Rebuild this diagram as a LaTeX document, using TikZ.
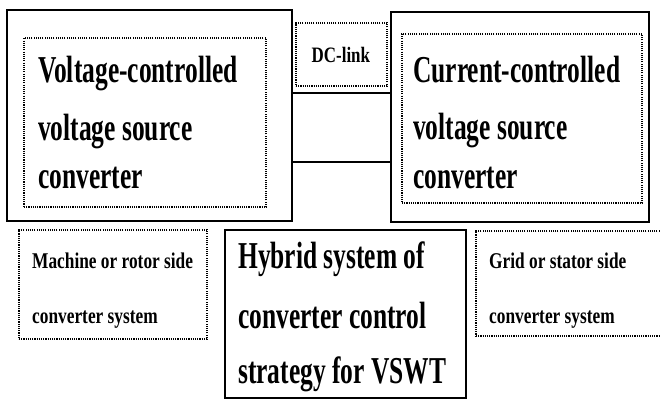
\documentclass[tikz,border=0pt]{standalone}
\usepackage{fontspec}
\setmainfont{Liberation Serif}[FakeStretch=0.73]
\newfontfamily\bigfont{Liberation Serif}[FakeStretch=0.67]
\newfontfamily\smallfont{Liberation Serif}[FakeStretch=0.77]
\begin{document}
\begin{tikzpicture}[x=1pt,y=-1pt,
  outerbox/.style={draw,line width=1.4pt,inner sep=0pt,outer sep=0pt},
  dotbox/.style={draw,line width=1.1pt,dash pattern=on 1.1pt off 1.1pt,inner sep=0pt,outer sep=0pt},
  bigtxt/.style={anchor=base west,inner sep=0pt,font=\bigfont\fontsize{38}{42}\selectfont\bfseries},
  midtxt/.style={anchor=base west,inner sep=0pt,font=\smallfont\fontsize{22.5}{26}\selectfont\bfseries},
  smalltxt/.style={anchor=base west,inner sep=0pt,font=\smallfont\fontsize{22}{25}\selectfont\bfseries},
  link/.style={line width=1.4pt}]
\useasboundingbox (0,0) rectangle (660,399);
% left converter
\node[outerbox,minimum width=285pt,minimum height=211pt] (lvo) at (149.5,115.5) {};
\node[dotbox,minimum width=242pt,minimum height=169pt] (lvi) at (145,122.5) {};
\node[bigtxt] (lt1) at (38,82) {Voltage-controlled};
\node[bigtxt] (lt2) at (38,140) {voltage source};
\node[bigtxt] (lt3) at (38,188) {converter};
% DC link
\node[dotbox,minimum width=91pt,minimum height=63pt] (dcl) at (341.5,54.5) {};
\node[smalltxt] (dct) at (311.5,62.5) {DC-link};
% right converter
\node[outerbox,minimum width=258pt,minimum height=210pt] (rco) at (520,117) {};
\node[dotbox,minimum width=240pt,minimum height=169pt] (rci) at (522,118.5) {};
\node[bigtxt] (rt1) at (413,82) {Current-controlled};
\node[bigtxt] (rt2) at (413,139) {voltage source};
\node[bigtxt] (rt3) at (413,188) {converter};
% connectors
\draw[link] ([yshift=22.5pt]lvo.east) -- ([yshift=22.5pt]lvo.east -| rco.west);
\draw[link] ([yshift=-46.5pt]lvo.east) -- ([yshift=-46.5pt]lvo.east -| rco.west);
% bottom row
\node[dotbox,minimum width=188pt,minimum height=109pt] (msb) at (113,284.5) {};
\node[midtxt] (mt1) at (32,268) {Machine or rotor side};
\node[midtxt] (mt2) at (32,323) {converter system};
\node[outerbox,minimum width=241pt,minimum height=168pt] (hyb) at (345.5,314) {};
\node[bigtxt] (ht1) at (238,268) {Hybrid system of};
\node[bigtxt] (ht2) at (238,328) {converter control};
\node[bigtxt] (ht3) at (238,383) {strategy for VSWT};
\node[dotbox,minimum width=190pt,minimum height=105pt] (gsb) at (571,283.5) {};
\node[midtxt] (gt1) at (489,268) {Grid or stator side};
\node[midtxt] (gt2) at (489,323) {converter system};
\end{tikzpicture}
\end{document}
